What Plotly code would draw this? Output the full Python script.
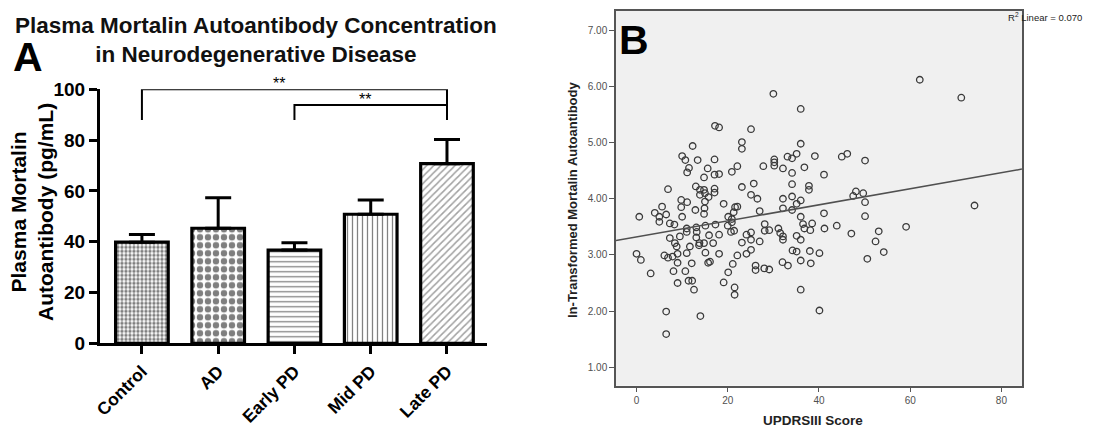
import plotly.graph_objects as go

# ---- Panel A: plasma mortalin autoantibody by group ----
groups = ["Control", "AD", "Early PD", "Mid PD", "Late PD"]
group_means = [39.8, 45.3, 36.7, 50.8, 70.7]
group_sem = [3.0, 12.0, 2.9, 5.6, 9.5]
group_patterns = [".", ".", "-", "|", "/"]
pattern_sizes = [4, 8, 5, 5, 5]
pattern_solidity = [0.55, 0.5, 0.25, 0.25, 0.3]
pattern_colors = ["black", "black", "black", "black", "#444444"]

# significance brackets: (left group index, right group index, bracket height, label x)
sig_left = [0, 2]
sig_right = [4, 4]
sig_height = [100.0, 93.8]
sig_drop = 87.9
sig_label_x = [1.8, 2.93]
sig_label = ["**", "**"]

# ---- Panel B: UPDRS III vs ln-transformed mortalin autoantibody ----
updrs = [
    30.0, 36.0, 17.2, 18.1, 25.1, 12.3, 23.1, 23.1, 36.0, 10.0,
    10.7, 13.4, 17.1, 11.5, 11.1, 15.6, 14.8, 17.1, 18.1, 20.9,
    22.1, 27.8, 30.2, 30.2, 30.2, 32.1, 33.1, 34.1, 35.1, 36.8,
    39.1, 41.1, 34.1, 34.1, 37.8, 37.8, 6.9, 13.0, 13.9, 14.8,
    17.1, 17.1, 13.9, 15.0, 15.8, 15.0, 23.1, 25.7, 25.1, 26.5,
    32.1, 34.1, 36.0, 35.1, 32.1, 34.1, 27.0, 9.8, 9.8, 11.1,
    5.6, 4.0, 6.5, 5.0, 5.0, 0.6, 12.9, 14.8, 14.9, 19.1,
    21.6, 22.1, 21.3, 20.1, 20.9, 20.9, 10.0, 7.3, 8.3, 15.1,
    17.3, 13.1, 11.0, 20.0, 21.4, 20.7, 28.1, 28.1, 29.1, 31.1,
    31.5, 32.1, 32.1, 36.0, 36.5, 36.8, 38.1, 38.5, 41.1, 41.2,
    43.9, 25.1, 24.1, 23.1, 25.1, 27.0, 35.1, 36.0, 16.8, 18.1,
    14.8, 15.9, 7.3, 8.4, 9.5, 11.0, 13.2, 13.1, 13.8, 13.7,
    11.7, 11.0, 8.8, 15.1, 18.1, 22.1, 24.1, 25.1, 34.2, 38.0,
    40.1, 0.0, 6.1, 7.9, 9.0,
    0.95, 3.1, 6.9, 9.0, 8.1, 10.7, 9.0, 11.4, 12.2, 12.1,
    12.6, 15.7, 16.1, 20.1, 19.1, 21.1, 21.5, 21.5, 26.1, 26.1,
    28.0, 29.1, 32.0, 33.2, 35.1, 36.0, 38.2, 36.0, 40.1, 6.5,
    6.5, 14.0,
    62.1, 71.2, 45.0, 46.2, 50.1, 48.1, 47.5, 49.7, 50.1, 50.1,
    74.1, 47.1, 53.1, 52.4, 54.2, 50.6, 59.1,
]
ln_mortalin = [
    5.87, 5.60, 5.30, 5.27, 5.24, 4.94, 5.01, 4.89, 4.98, 4.76,
    4.69, 4.69, 4.70, 4.55, 4.47, 4.54, 4.38, 4.43, 4.44, 4.48,
    4.58, 4.58, 4.70, 4.65, 4.59, 4.54, 4.75, 4.72, 4.80, 4.56,
    4.76, 4.43, 4.46, 4.26, 4.23, 4.16, 4.17, 4.22, 4.16, 4.16,
    4.18, 4.11, 4.07, 4.10, 4.03, 3.95, 4.21, 4.27, 4.07, 4.00,
    4.00, 4.04, 3.97, 3.91, 3.83, 3.80, 3.78, 3.98, 3.85, 3.94,
    3.86, 3.75, 3.72, 3.68, 3.59, 3.68, 3.80, 3.73, 3.83, 3.91,
    3.85, 3.86, 3.76, 3.68, 3.64, 3.58, 3.68, 3.56, 3.54, 3.52,
    3.54, 3.49, 3.47, 3.52, 3.43, 3.41, 3.55, 3.43, 3.44, 3.47,
    3.39, 3.33, 3.27, 3.68, 3.55, 3.47, 3.44, 3.56, 3.74, 3.47,
    3.52, 3.40, 3.36, 3.22, 3.27, 3.24, 3.34, 3.27, 3.21, 3.36,
    3.21, 3.35, 3.30, 3.21, 3.33, 3.41, 3.41, 3.31, 3.21, 3.17,
    3.15, 3.03, 3.15, 3.04, 3.02, 2.99, 3.02, 3.09, 3.08, 3.07,
    3.03, 3.02, 2.99, 2.97, 3.02,
    2.91, 2.67, 2.95, 2.86, 2.71, 2.71, 2.50, 2.54, 2.54, 2.85,
    2.38, 2.86, 2.88, 2.69, 2.51, 2.84, 2.42, 2.29, 2.81, 2.73,
    2.76, 2.74, 2.87, 2.81, 3.06, 2.90, 2.85, 2.38, 2.01, 1.99,
    1.59, 1.91,
    6.12, 5.80, 4.75, 4.80, 4.68, 4.13, 4.05, 4.10, 3.94, 3.69,
    3.88, 3.38, 3.42, 3.24, 3.05, 2.93, 3.50,
]
fit_intercept = 3.32
fit_slope = 0.0143
fit_x = [-4.5, 84.5]
r_squared = 0.070

fig = go.Figure()

# bars with hatch patterns and upper SEM whiskers
for i, g in enumerate(groups):
    fig.add_trace(go.Bar(
        x=[g], y=[group_means[i]], width=0.69,
        marker=dict(
            color="white",
            line=dict(color="black", width=3.2),
            pattern=dict(shape=group_patterns[i], fgcolor=pattern_colors[i],
                         bgcolor="white", size=pattern_sizes[i],
                         solidity=pattern_solidity[i], fillmode="overlay"),
        ),
        error_y=dict(type="data", array=[group_sem[i]], arrayminus=[0],
                     color="black", thickness=3, width=13),
        xaxis="x", yaxis="y", showlegend=False, hoverinfo="skip",
    ))

# significance brackets
for k in range(len(sig_left)):
    xl, xr = groups[sig_left[k]], groups[sig_right[k]]
    fig.add_trace(go.Scatter(
        x=[xl, xl, xr, xr], y=[sig_drop, sig_height[k], sig_height[k], sig_drop],
        mode="lines", line=dict(color="black", width=2),
        xaxis="x", yaxis="y", cliponaxis=False, showlegend=False, hoverinfo="skip",
    ))
    fig.add_annotation(x=sig_label_x[k], y=sig_height[k], xref="x", yref="y",
                       text=sig_label[k], showarrow=False, yanchor="bottom", yshift=-5,
                       font=dict(family="Liberation Sans", size=16, color="black"))

# scatter and linear fit
fig.add_trace(go.Scatter(
    x=updrs, y=ln_mortalin, mode="markers",
    marker=dict(symbol="circle-open", size=6.5, color="#3a3a3a",
                line=dict(width=1.3, color="#3a3a3a")),
    xaxis="x2", yaxis="y2", showlegend=False, hoverinfo="skip",
))
fig.add_trace(go.Scatter(
    x=fit_x, y=[fit_intercept + fit_slope * v for v in fit_x], mode="lines",
    line=dict(color="#505050", width=1.5),
    xaxis="x2", yaxis="y2", showlegend=False, hoverinfo="skip",
))

B_FONT = dict(family="Liberation Sans", size=10, color="#505050")
A_TICK_FONT = dict(family="Liberation Sans", size=19, color="black", weight="bold")
A_XTICK_FONT = dict(family="Liberation Sans", size=17.5, color="black", weight="bold")

fig.update_layout(
    width=1101, height=428,
    margin=dict(l=0, r=0, t=0, b=0),
    paper_bgcolor="white", plot_bgcolor="white",
    bargap=0.31,
    xaxis=dict(
        domain=[0.0908, 0.442], range=[-0.55, 4.52],
        type="category", categoryorder="array", categoryarray=groups,
        showline=True, linecolor="black", linewidth=3,
        ticks="outside", ticklen=8, tickwidth=2.5, tickcolor="black",
        tickangle=-45, tickfont=A_XTICK_FONT,
        showgrid=False, zeroline=False, anchor="y", automargin=False,
    ),
    yaxis=dict(
        domain=[0.1979, 0.7914], range=[0, 100],
        tickvals=[0, 20, 40, 60, 80, 100],
        showline=True, linecolor="black", linewidth=3,
        ticks="outside", ticklen=8, tickwidth=3, tickcolor="black",
        tickfont=A_TICK_FONT,
        showgrid=False, zeroline=False, anchor="x", automargin=False,
    ),
    xaxis2=dict(
        domain=[0.5595, 0.9282], range=[-4.5, 84.5],
        tickvals=[0, 20, 40, 60, 80],
        showline=True, mirror=True, linecolor="#555555", linewidth=1.5,
        ticks="outside", ticklen=5, tickwidth=1, tickcolor="#555555",
        tickfont=B_FONT, showgrid=False, zeroline=False, anchor="y2", automargin=False,
    ),
    yaxis2=dict(
        domain=[0.0988, 0.975], range=[0.67, 7.35],
        tickvals=[1, 2, 3, 4, 5, 6, 7], tickformat=".2f",
        showline=True, mirror=True, linecolor="#555555", linewidth=1.5,
        ticks="outside", ticklen=5, tickwidth=1, tickcolor="#555555",
        tickfont=B_FONT, showgrid=False, zeroline=False, anchor="x2", automargin=False,
    ),
    shapes=[dict(type="rect", xref="x2 domain", yref="y2 domain",
                 x0=0, x1=1, y0=0, y1=1, fillcolor="#f0f0f0",
                 line=dict(width=0), layer="below")],
)

# titles and panel letters
fig.add_annotation(x=256 / 1101, y=1 - 11 / 428, xref="paper", yref="paper",
                   text="Plasma Mortalin Autoantibody Concentration<br>in Neurodegenerative Disease",
                   showarrow=False, xanchor="center", yanchor="top", align="center",
                   font=dict(family="Liberation Sans", size=22.5, color="#111111", weight="bold"))
fig.add_annotation(x=11 / 1101, y=1 - 32 / 428, xref="paper", yref="paper", text="A",
                   showarrow=False, xanchor="left", yanchor="top",
                   font=dict(family="Liberation Sans", size=41, color="black", weight="bold"))
fig.add_annotation(x=32 / 1101, y=1 - 212 / 428, xref="paper", yref="paper",
                   text="Plasma Mortalin<br>Autoantibody (pg/mL)", textangle=-90,
                   showarrow=False, xanchor="center", yanchor="middle", align="center",
                   font=dict(family="Liberation Sans", size=21, color="black", weight="bold"))
fig.add_annotation(x=617 / 1101, y=1 - 15 / 428, xref="paper", yref="paper", text="B",
                   showarrow=False, xanchor="left", yanchor="top",
                   font=dict(family="Liberation Sans", size=41, color="black", weight="bold"))
fig.add_annotation(x=1006 / 1101, y=1 - 17 / 428, xref="paper", yref="paper",
                   text=f"R<sup>2</sup> Linear = {r_squared:.3f}",
                   showarrow=False, xanchor="left", yanchor="middle",
                   font=dict(family="Liberation Sans", size=9.5, color="#222222"))
fig.add_annotation(x=572 / 1101, y=1 - 200 / 428, xref="paper", yref="paper",
                   text="ln-Transformed Mortalin Autoantibody", textangle=-90,
                   showarrow=False, xanchor="center", yanchor="middle",
                   font=dict(family="Liberation Sans", size=13, color="#222222", weight="bold"))
fig.add_annotation(x=813 / 1101, y=1 - 420 / 428, xref="paper", yref="paper",
                   text="UPDRSIII Score",
                   showarrow=False, xanchor="center", yanchor="middle",
                   font=dict(family="Liberation Sans", size=13.5, color="#222222", weight="bold"))

fig.write_html("out.html")
